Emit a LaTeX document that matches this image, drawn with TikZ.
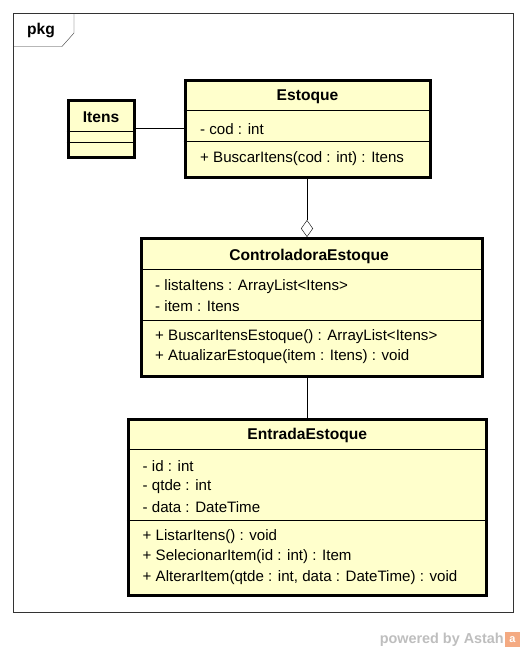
\documentclass[tikz,border=0pt]{standalone}
\usepackage{fontspec}
\setmainfont{Liberation Sans}
\usetikzlibrary{arrows.meta}
\definecolor{classfill}{RGB}{255,255,204}
\definecolor{astahgray}{RGB}{190,190,190}
\definecolor{astahorange}{RGB}{244,170,130}
\tikzset{
  classbox/.style={draw, line width=3pt, fill=classfill, inner sep=0pt},
  member/.style={anchor=west, inner sep=0pt, font=\fontsize{15.1}{18}\selectfont},
  classtitle/.style={inner sep=0pt, font=\bfseries\fontsize{15.6}{18}\selectfont},
  divider/.style={line width=1pt},
}
\begin{document}
\begin{tikzpicture}[x=1pt,y=-1pt]
        \useasboundingbox (0,0) rectangle (525,653);
        % package frame
        \draw[black!80] (13,13) rectangle (513,612);
        \draw[black!80] (13,46.5) -- (62,46.5) -- (74,33) -- (74,13);
        \node[classtitle] (pkg) at (41,31) {pkg};
        % classes
        \node[classbox, minimum width=66pt, minimum height=57pt] (itens) at (101,128.5) {};
        \node[classbox, minimum width=245pt, minimum height=97pt] (estoque) at (307.5,128.5) {};
        \node[classbox, minimum width=341pt, minimum height=138pt] (ctrl) at (312.3,307.5) {};
        \node[classbox, minimum width=358pt, minimum height=176pt] (entrada) at (307.3,507) {};
        % Itens
        \node[classtitle] (itenstitle) at (101,117) {Itens};
        \draw[divider] (itens.west |- 0,131) -- (itens.east |- 0,131);
        \draw[divider] (itens.west |- 0,142) -- (itens.east |- 0,142);
        % Estoque
        \node[classtitle] (estoquetitle) at (307.5,97) {Estoque};
        \draw[divider] (estoque.west |- 0,110.7) -- (estoque.east |- 0,110.7);
        \draw[divider] (estoque.west |- 0,141) -- (estoque.east |- 0,141);
        \node[member] (cod) at (200,129) {- cod : int};
        \node[member] (buscar) at (200,159) {+ BuscarItens(cod : int) : Itens};
        % ControladoraEstoque
        \node[classtitle] (ctrltitle) at (309,256) {ControladoraEstoque};
        \draw[divider] (ctrl.west |- 0,269.3) -- (ctrl.east |- 0,269.3);
        \draw[divider] (ctrl.west |- 0,320.7) -- (ctrl.east |- 0,320.7);
        \foreach \txt [count=\i] in {{- listaItens : ArrayList<Itens>}, {- item : Itens}}
            \node[member] (ctrlattr\i) at (155,266.5+20*\i) {\txt};
        \foreach \txt [count=\i] in {{+ BuscarItensEstoque() : ArrayList<Itens>}, {+ AtualizarEstoque(item : Itens) : void}}
            \node[member] (ctrlop\i) at (155,317.5+19.5*\i) {\txt};
        % EntradaEstoque
        \node[classtitle] (entradatitle) at (307.3,435) {EntradaEstoque};
        \draw[divider] (entrada.west |- 0,449.3) -- (entrada.east |- 0,449.3);
        \draw[divider] (entrada.west |- 0,520.7) -- (entrada.east |- 0,520.7);
        \foreach \txt [count=\i] in {{- id : int}, {- qtde : int}, {- data : DateTime}}
            \node[member] (entattr\i) at (142.5,446+20.5*\i) {\txt};
        \foreach \txt [count=\i] in {{+ ListarItens() : void}, {+ SelecionarItem(id : int) : Item}, {+ AlterarItem(qtde : int, data : DateTime) : void}}
            \node[member] (entop\i) at (142.5,516+20.5*\i) {\txt};
        % connectors
        \draw (itens.east) -- (itens.east -| estoque.west);
        \draw[-{Diamond[open, length=17pt, width=12pt]}] (estoque.south -| 307,0) -- (ctrl.north -| 307,0);
        \draw (ctrl.south -| 307,0) -- (entrada.north -| 307,0);
        % watermark
        \node[anchor=east, inner sep=0pt, text=astahgray, font=\bfseries\fontsize{14.4}{17}\selectfont] (powered) at (504,640) {powered by Astah};
        \fill[astahorange] (505,632) rectangle (520,647);
        \node[inner sep=0pt, text=white, font=\bfseries\fontsize{11}{12}\selectfont] (logo) at (512.5,640) {a};
\end{tikzpicture}
\end{document}
